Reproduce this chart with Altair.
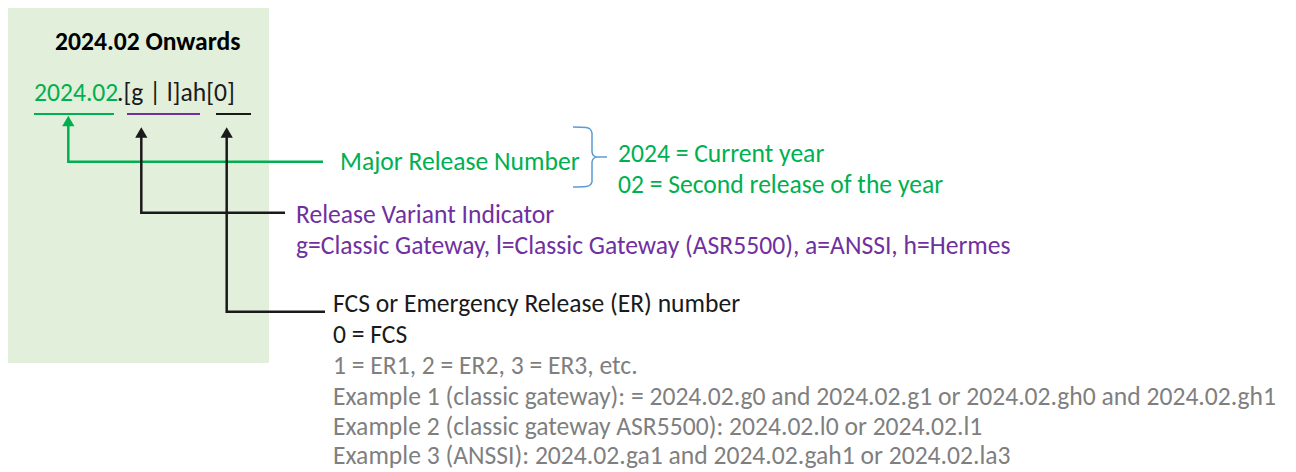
import altair as alt
import pandas as pd

FONT = "Carlito, Calibri, Lato, sans-serif"
FS = 25.6
GREEN = "#00B050"
PURPLE = "#7030A0"
GRAY = "#7F7F7F"
BLACK = "#1A1A1A"
BRACE = "#5B9BD5"
PANEL = "#E2EFDA"

# ---- text content ----
title_text = ["2024.02 Onwards"]
version_parts = ["2024.02", ".[g | l]ah[0]"]
major_lines = ["Major Release Number"]
brace_lines = ["2024 = Current year", "02 = Second release of the year"]
variant_lines = ["Release Variant Indicator",
                 "g=Classic Gateway, l=Classic Gateway (ASR5500), a=ANSSI, h=Hermes"]
fcs_lines = ["FCS or Emergency Release (ER) number", "0 = FCS"]
example_lines = ["1 = ER1, 2 = ER2, 3 = ER3, etc.",
                 "Example 1 (classic gateway): = 2024.02.g0 and 2024.02.g1 or 2024.02.gh0 and 2024.02.gh1",
                 "Example 2 (classic gateway ASR5500): 2024.02.l0 or 2024.02.l1",
                 "Example 3 (ANSSI): 2024.02.ga1 and 2024.02.gah1 or 2024.02.la3"]
example_y = [366, 396.5, 426.5, 455.5]

# ---- layout (pixel coordinates of the diagram) ----
W, H = 1280, 463
xs = alt.Scale(domain=[8, 8 + W], nice=False, zero=False)
ys = alt.Scale(domain=[8, 8 + H], nice=False, zero=False, reverse=True)
X = lambda f: alt.X(f, type="quantitative", scale=xs, axis=None)
Y = lambda f: alt.Y(f, type="quantitative", scale=ys, axis=None)

panel = alt.Chart(pd.DataFrame({"x": [7.5], "x2": [269], "y": [7], "y2": [363]})).mark_rect(
    color=PANEL).encode(x=X("x"), x2="x2", y=Y("y"), y2="y2")

texts = []
texts.append(dict(x=55, y=42, t=title_text[0], c="#000000", w="bold"))
texts.append(dict(x=34, y=93, t=version_parts[0], c=GREEN, w="normal"))
texts.append(dict(x=117, y=93, t=version_parts[1], c=BLACK, w="normal"))
texts.append(dict(x=340, y=162, t=major_lines[0], c=GREEN, w="normal"))
for i, t in enumerate(brace_lines):
    texts.append(dict(x=618, y=154 + 31 * i, t=t, c=GREEN, w="normal"))
for i, t in enumerate(variant_lines):
    texts.append(dict(x=296, y=215 + 30.5 * i, t=t, c=PURPLE, w="normal"))
for i, t in enumerate(fcs_lines):
    texts.append(dict(x=333, y=304 + 31 * i, t=t, c=BLACK, w="normal"))
for t, yy in zip(example_lines, example_y):
    texts.append(dict(x=333, y=yy, t=t, c=GRAY, w="normal"))
tdf = pd.DataFrame(texts)

def text_layer(df, weight):
    return alt.Chart(df).mark_text(font=FONT, fontSize=FS, align="left", baseline="middle",
                                   fontWeight=weight).encode(
        x=X("x"), y=Y("y"), text="t:N", color=alt.Color("c:N", scale=None))

text_norm = text_layer(tdf[tdf.w == "normal"], "normal")
text_bold = text_layer(tdf[tdf.w == "bold"], "bold")

# underlines
ul = pd.DataFrame({"x": [34, 127, 216], "x2": [114, 200, 251], "y": [114] * 3,
                   "c": [GREEN, PURPLE, BLACK]})
underlines = alt.Chart(ul).mark_rule(strokeWidth=2).encode(
    x=X("x"), x2="x2", y=Y("y"), color=alt.Color("c:N", scale=None))

# connector paths
paths = pd.DataFrame({
    "id": ["g"] * 3 + ["b1"] * 3 + ["b2"] * 3,
    "o": [0, 1, 2] * 3,
    "x": [68.3, 68.3, 323, 141.3, 141.3, 285, 226.7, 226.7, 325],
    "y": [125, 161.7, 161.7, 136, 212.7, 212.7, 136, 311.7, 311.7],
    "c": [GREEN] * 3 + [BLACK] * 6,
})
connectors = alt.Chart(paths).mark_line(strokeWidth=2.5, strokeJoin="miter").encode(
    x=X("x"), y=Y("y"), order="o:Q", detail="id:N", color=alt.Color("c:N", scale=None))

heads = pd.DataFrame({"x": [68.3, 141.3, 226.7], "y": [121, 132.5, 132.5],
                      "c": [GREEN, BLACK, BLACK]})
arrowheads = alt.Chart(heads).mark_point(shape="triangle-up", filled=True, size=150, opacity=1).encode(
    x=X("x"), y=Y("y"), color=alt.Color("c:N", scale=None))

# curly brace
bx = [573, 586, 590, 592, 592, 593.5, 597, 607, 597, 593.5, 592, 592, 590, 586, 573]
by = [127, 127.5, 129, 133, 152, 155.5, 157, 157, 157, 158.5, 162, 182, 185, 186.5, 187]
brace = alt.Chart(pd.DataFrame({"x": bx, "y": by, "o": list(range(len(bx)))})).mark_line(
    color=BRACE, strokeWidth=1.5, interpolate="monotone").encode(x=X("x"), y=Y("y"), order="o:Q")

chart = alt.layer(panel, underlines, connectors, arrowheads, brace, text_norm, text_bold).properties(
    width=W, height=H, padding=0, background="white", autosize=alt.AutoSizeParams(type="none")
).configure_view(stroke=None, strokeWidth=0)

chart.save("out.html", embed_options={"renderer": "svg", "actions": False})
